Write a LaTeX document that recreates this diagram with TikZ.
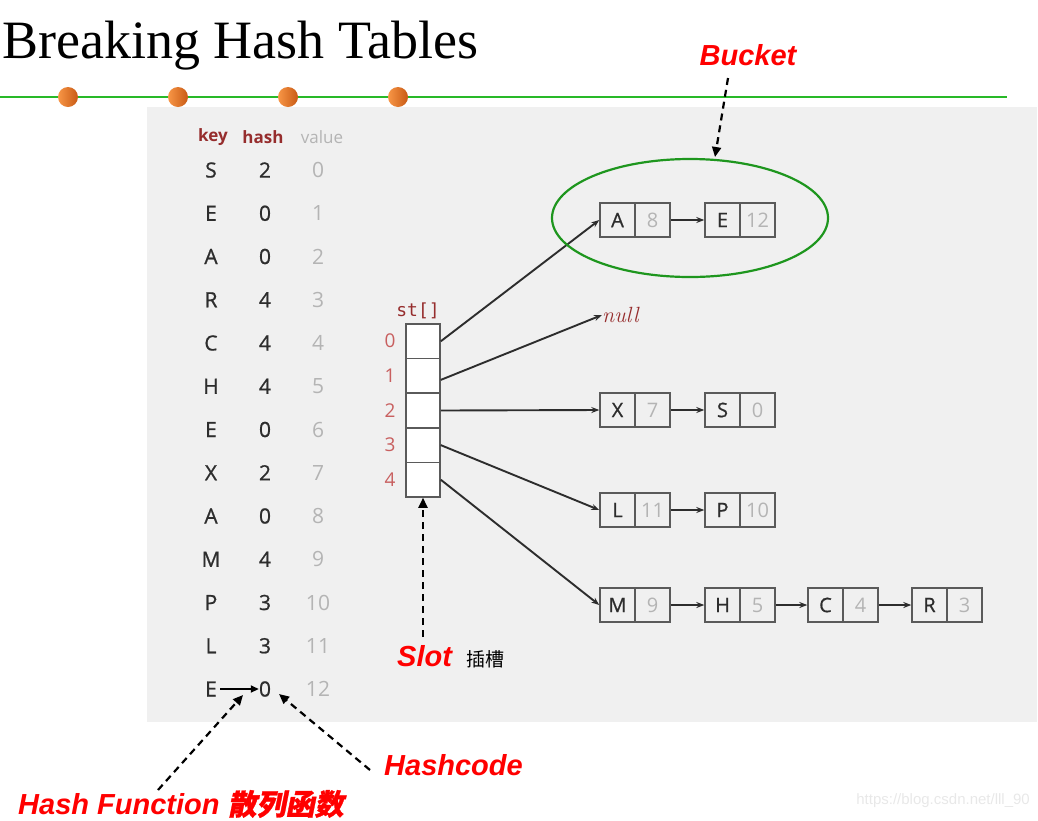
\documentclass[tikz,border=0pt]{standalone}
\usepackage{fontspec}
\newfontfamily\titlefont{Liberation Serif}
\newfontfamily\tabfont{Open Sans}[FakeBold=0.8]
\newfontfamily\hdrfont{Open Sans}
\newfontfamily\labfont{Liberation Sans}
\newfontfamily\cjkfont{Noto Sans CJK SC}
\newfontfamily\cjkbifont{Noto Sans CJK SC}[FakeSlant=0.2,FakeBold=1]
\newfontfamily\monofont{DejaVu Sans Mono}
\usetikzlibrary{arrows.meta,shapes.geometric}
\definecolor{bggrey}{RGB}{240,240,240}
\definecolor{hdrred}{RGB}{150,45,45}
\definecolor{idxred}{RGB}{200,95,95}
\definecolor{valgrey}{RGB}{180,180,180}
\definecolor{txtdark}{RGB}{45,45,45}
\definecolor{boxline}{RGB}{90,90,90}
\definecolor{bucketgreen}{RGB}{30,150,30}
\definecolor{linegreen}{RGB}{40,185,40}
\definecolor{orangeL}{RGB}{248,150,70}
\definecolor{orangeR}{RGB}{200,90,20}
\definecolor{wm}{RGB}{232,232,232}
\tikzset{
  cellk/.style={draw=boxline, line width=1.4pt, minimum width=35pt, minimum height=34pt, inner sep=0pt, font=\tabfont\fontsize{20}{20}\selectfont, text=txtdark},
  cellv/.style={cellk, font=\hdrfont\fontsize{20}{20}\selectfont, text=valgrey},
  slotcell/.style={draw=boxline, line width=1.5pt, fill=white, minimum width=34pt, minimum height=34.6pt, inner sep=0pt},
  tabtxt/.style={font=\tabfont\fontsize{21}{21}\selectfont, text=txtdark, inner sep=0pt},
  tabval/.style={font=\hdrfont\fontsize{21}{21}\selectfont, text=valgrey, inner sep=0pt},
  link/.style={draw=txtdark, line width=1.9pt, -{Stealth[length=8pt,width=6pt]}},
  redlab/.style={font=\labfont\bfseries\itshape\fontsize{29}{29}\selectfont, text=red, inner sep=0pt},
  dasharrow/.style={draw=black, line width=2.2pt, dash pattern=on 7pt off 5pt, -{Triangle[length=10pt,width=9pt]}},
  ball/.style={circle, minimum size=20pt, inner sep=0pt, left color=orangeL, right color=orangeR}
}
\begin{document}
\begin{tikzpicture}[x=1pt,y=-1pt]
\useasboundingbox (0,0) rectangle (1038,820);
% background
\fill[bggrey] (147,107) rectangle (1037,722);
% title
\node[anchor=base west, inner sep=0pt, font=\titlefont\fontsize{54}{54}\selectfont] (title) at (2,58) {Breaking Hash Tables};
\draw[linegreen, line width=1.3pt] (0,97) -- (1007,97);
\foreach \bx [count=\i] in {68,178,288,398} \node[ball] (ball\i) at (\bx,97) {};
% table headers
\node[font=\hdrfont\bfseries\fontsize{17}{17}\selectfont, text=hdrred, inner sep=0pt] (hkey) at (213,137) {key};
\node[font=\hdrfont\bfseries\fontsize{17}{17}\selectfont, text=hdrred, inner sep=0pt] (hhash) at (263,137) {hash};
\node[font=\hdrfont\fontsize{17}{17}\selectfont, text=valgrey, inner sep=0pt] (hval) at (322,137) {value};
% table rows
\foreach \k/\h/\v [count=\i from 0] in {S/2/0,E/0/1,A/0/2,R/4/3,C/4/4,H/4/5,E/0/6,X/2/7,A/0/8,M/4/9,P/3/10,L/3/11,E/0/12}{
  \node[tabtxt] (k\i) at (211,170+43.25*\i) {\k};
  \node[tabtxt] (h\i) at (265,170+43.25*\i) {\h};
  \node[tabval] (v\i) at (318,170+43.25*\i) {\v};
}
\draw[black, line width=1.8pt, -{Triangle[length=8pt,width=7pt]}] (k12.east) ++(3,0) coordinate (ea) (ea) -- (h12.west);
% slot array
\node[font=\monofont\fontsize{18}{18}\selectfont, text=hdrred, inner sep=0pt] (st) at (418,311) {st[]};
\foreach \i in {0,...,4}{
  \node[slotcell] (s\i) at (423,341.3+34.6*\i) {};
  \node[font=\hdrfont\fontsize{19}{19}\selectfont, text=idxred, inner sep=0pt] (idx\i) at (390,341+34.6*\i) {\i};
}
% chains
\node[cellk] (ak) at (617.5,220) {A};  \node[cellv] (av) at (652.5,220) {8};
\node[cellk] (ek) at (722.5,220) {E};  \node[cellv] (ev) at (757.5,220) {12};
\node[font=\itshape\fontsize{22}{22}\selectfont, text=hdrred, inner sep=0pt, anchor=west] (null) at (602,315) {null};
\node[cellk] (xk) at (617.5,410) {X};  \node[cellv] (xv) at (652.5,410) {7};
\node[cellk] (sk) at (722.5,410) {S};  \node[cellv] (sv) at (757.5,410) {0};
\node[cellk] (lk) at (617.5,510) {L};  \node[cellv] (lv) at (652.5,510) {11};
\node[cellk] (pk) at (722.5,510) {P};  \node[cellv] (pv) at (757.5,510) {10};
\node[cellk] (mk) at (617.5,605) {M};  \node[cellv] (mv) at (652.5,605) {9};
\node[cellk] (hk) at (722.5,605) {H};  \node[cellv] (hv) at (757.5,605) {5};
\node[cellk] (ck) at (825.5,605) {C};  \node[cellv] (cv) at (860.5,605) {4};
\node[cellk] (rk) at (929.5,605) {R};  \node[cellv] (rv) at (964.5,605) {3};
% links from slots
\draw[link] (s0.east) -- (ak.west);
\draw[link] ([yshift=-4pt]s1.east) -- (null.west);
\draw[link] (s2.east) -- (xk.west);
\draw[link] (s3.east) -- (lk.west);
\draw[link] (s4.east) -- (mk.west);
% links in chains
\draw[link] (av.east) -- (ek.west);
\draw[link] (xv.east) -- (sk.west);
\draw[link] (lv.east) -- (pk.west);
\draw[link] (mv.east) -- (hk.west);
\draw[link] (hv.east) -- (ck.west);
\draw[link] (cv.east) -- (rk.west);
% bucket ellipse
\node[ellipse, draw=bucketgreen, line width=2.2pt, minimum width=276pt, minimum height=118pt] (bucket) at (690,218) {};
% labels
\node[redlab] (bucketlab) at (748,55) {Bucket};
\coordinate (bstart) at (728,78);
\coordinate (bend) at (715,157);
\draw[dasharrow] (bstart) -- (bend);
\node[redlab, anchor=west] (slotlab) at (397,656) {Slot};
\node[font=\cjkfont\fontsize{19}{19}\selectfont, text=black, anchor=west, inner sep=0pt] (slotcn) at (466,659) {插槽};
\coordinate (sstart) at (423,637);
\draw[dasharrow] (sstart) -- (s4.south);
\node[redlab, anchor=west] (hclab) at (384,765) {Hashcode};
\coordinate (hcstart) at (370,770);
\coordinate (hcend) at (279,694);
\draw[dasharrow] (hcstart) -- (hcend);
\node[redlab, anchor=west] (hflab) at (18,804) {Hash Function {\cjkbifont 散列函数}};
\coordinate (hfstart) at (158,790);
\coordinate (hfend) at (243,695);
\draw[dasharrow] (hfstart) -- (hfend);
% watermark
\node[font=\labfont\fontsize{15}{15}\selectfont, text=wm, anchor=east, inner sep=0pt] (wmark) at (1030,801) {https://blog.csdn.net/lll\_90};
\end{tikzpicture}
\end{document}
